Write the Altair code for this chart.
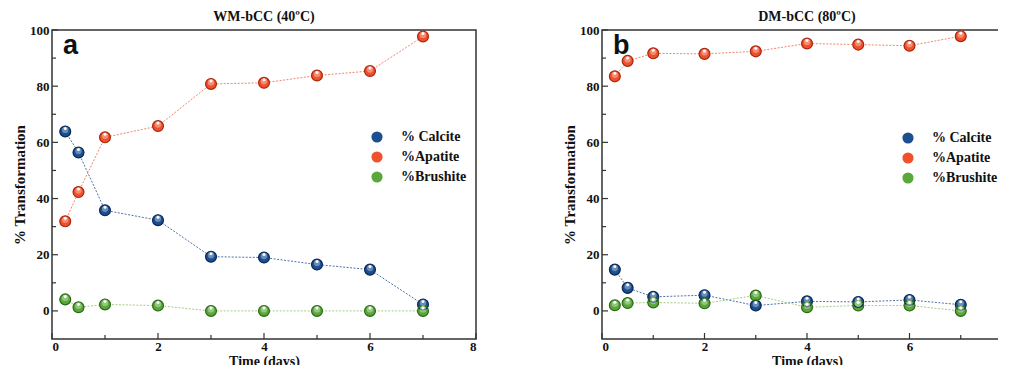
import altair as alt
import pandas as pd

days = [0.25, 0.5, 1, 2, 3, 4, 5, 6, 7]
series = ["% Calcite", "%Apatite", "%Brushite"]

a_calcite = [63.9, 56.4, 35.8, 32.3, 19.3, 19.0, 16.5, 14.7, 2.3]
a_apatite = [31.9, 42.3, 61.8, 65.8, 80.8, 81.2, 83.8, 85.4, 97.7]
a_brushite = [4.1, 1.3, 2.3, 1.9, 0.0, 0.0, 0.0, 0.0, 0.0]

b_calcite = [14.7, 8.2, 5.0, 5.6, 1.9, 3.4, 3.2, 3.9, 2.2]
b_apatite = [83.5, 89.0, 91.7, 91.5, 92.4, 95.2, 94.8, 94.4, 97.8]
b_brushite = [2.0, 2.8, 3.0, 2.7, 5.5, 1.3, 1.9, 1.9, 0.0]

x_major = [0, 2, 4, 6, 8]
x_minor = [1, 3, 5, 7]
y_major = [0, 20, 40, 60, 80, 100]
y_minor = [10, 30, 50, 70, 90]

base_cols = ["#1c4f8f", "#f0502c", "#5aa83a"]
dark_cols = ["#0b2a55", "#a8290f", "#2d6b1a"]
line_cols = ["#4f73a8", "#f2866a", "#a6cc86"]

SERIF = "Liberation Serif"
H = 309
FRAME = "#333333"


def panel(cal, apa, bru, title, letter, W, lx, ly, x_labels):
    rows = []
    for name, vals in zip(series, [cal, apa, bru]):
        for d, v in zip(days, vals):
            rows.append({"day": d, "val": v, "series": name})
    df = pd.DataFrame(rows)

    xs = alt.Scale(domain=[0, 8], nice=False, zero=False)
    ys = alt.Scale(domain=[-10, 100], nice=False, zero=False)
    common = dict(ticks=False, tickSize=0, grid=False, format="d", domain=False,
                  labelFont=SERIF, labelFontWeight="bold", labelFontSize=13, labelColor="#111",
                  titleFont=SERIF, titleFontWeight="bold", titleColor="#111")
    xax = alt.Axis(values=x_labels, labelPadding=1, title="Time (days)", titlePadding=1,
                   titleFontSize=14, **common)
    yax = alt.Axis(values=y_major, labelPadding=3, title="% Transformation", titlePadding=2,
                   titleFontSize=15, **common)

    base = alt.Chart(df).encode(
        x=alt.X("day:Q", scale=xs, axis=xax),
        y=alt.Y("val:Q", scale=ys, axis=yax),
    )
    lines = [
        base.transform_filter(alt.datum.series == name).mark_line(
            strokeWidth=1, strokeDash=[2, 1.5], color=line_cols[i]).encode(order="day:Q")
        for i, name in enumerate(series)
    ]
    pts = base.mark_circle(size=125, opacity=1).encode(
        fill=alt.Fill("series:N", scale=alt.Scale(domain=series, range=base_cols),
                      sort=series,
                      legend=alt.Legend(orient="none", legendX=lx, legendY=ly, title=None,
                                        labelFont=SERIF, labelFontWeight="bold", labelFontSize=14,
                                        labelColor="#111", symbolType="circle", symbolSize=125,
                                        symbolOpacity=1, rowPadding=6, labelOffset=17, padding=0)),
    )
    rims = [
        base.transform_filter(alt.datum.series == name).mark_point(
            size=118, opacity=1, filled=False, stroke=dark_cols[i], strokeWidth=1.2)
        for i, name in enumerate(series)
    ]
    glow = base.mark_circle(size=40, color="white", opacity=0.35, yOffset=-1.5)
    spot = base.mark_circle(size=9, color="white", opacity=0.95, yOffset=-3)

    xt_maj = alt.Chart(pd.DataFrame({"day": x_major})).mark_rule(color=FRAME, strokeWidth=1.2).encode(
        x=alt.X("day:Q", scale=xs, axis=xax), y=alt.value(H), y2=alt.value(H - 6))
    xt_min = alt.Chart(pd.DataFrame({"day": x_minor})).mark_rule(color=FRAME, strokeWidth=1.2).encode(
        x=alt.X("day:Q", scale=xs, axis=xax), y=alt.value(H), y2=alt.value(H - 4))
    yt_maj = alt.Chart(pd.DataFrame({"val": y_major})).mark_rule(color=FRAME, strokeWidth=1.2).encode(
        y=alt.Y("val:Q", scale=ys, axis=yax), x=alt.value(0), x2=alt.value(6))
    yt_min = alt.Chart(pd.DataFrame({"val": y_minor})).mark_rule(color=FRAME, strokeWidth=1.2).encode(
        y=alt.Y("val:Q", scale=ys, axis=yax), x=alt.value(0), x2=alt.value(4))

    lab = alt.Chart(pd.DataFrame({"t": [letter]})).mark_text(
        font="Liberation Sans", fontWeight="bold", fontSize=27, align="left", baseline="top",
        color="#111").encode(text="t:N", x=alt.value(11), y=alt.value(3))

    return alt.layer(*lines, pts, *rims, glow, spot, xt_maj, xt_min, yt_maj, yt_min, lab).properties(
        width=W, height=H,
        title=alt.Title(title, font=SERIF, fontSize=14, fontWeight="bold", color="#111",
                        offset=0, anchor="middle", frame="group"),
    )


left = panel(a_calcite, a_apatite, a_brushite, "WM-bCC (40ºC)", "a", 424, 318, 100, x_major)
right = panel(b_calcite, b_apatite, b_brushite, "DM-bCC (80ºC)", "b", 410, 299, 101, x_major[:-1])

chart = alt.hconcat(
    left, right, spacing=83, background="white",
    padding={"left": 3, "top": 1, "right": -16, "bottom": -4},
).resolve_scale(
    x="independent", y="independent", fill="independent"
).resolve_legend(fill="independent").configure_view(
    stroke=FRAME, strokeWidth=1.5
).configure_axis(labelFont=SERIF, titleFont=SERIF)

chart.save("out.html", embed_options={"renderer": "svg", "actions": False})
